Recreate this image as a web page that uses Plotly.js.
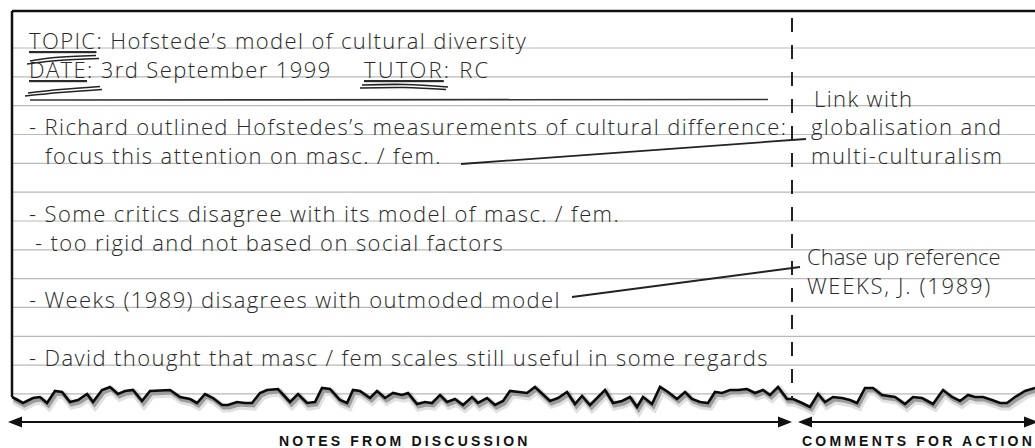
<!DOCTYPE html>
<html><head><meta charset="utf-8">
<script src="https://cdn.plot.ly/plotly-3.0.1.min.js"></script>
<style>html,body{margin:0;padding:0;background:#fff;overflow:hidden}</style>
</head><body><div id="chart" style="width:1035px;height:448px"></div>
<script>
// ---------------- DATA ----------------
const headerLabels = ["TOPIC", "DATE", "TUTOR"];
const headerValues = ["Hofstede’s model of cultural diversity", "3rd September 1999", "RC"];
const headerRows = [0, 1, 1];

const noteTexts = [
  "- Richard outlined Hofstedes’s measurements of cultural difference:",
  "focus this attention on masc. / fem.",
  "- Some critics disagree with its model of masc. / fem.",
  "- too rigid and not based on social factors",
  "- Weeks (1989) disagrees with outmoded model",
  "- David thought that masc / fem scales still useful in some regards"
];
const noteRows = [3, 4, 6, 7, 9, 11];

const commentTexts = ["Link with", "globalisation and", "multi-culturalism", "Chase up reference", "WEEKS, J. (1989)"];
const commentRows = [2, 3, 4, 7.5, 8.5];

const columnLabels = ["NOTES FROM DISCUSSION", "COMMENTS FOR ACTION"];
const ruledLineCount = 13;

const tornEdgeX = [12,23,33,40,47,55,62,70,78,87, 93,102,110,118,125,133,142,150,170,180,
  190,197,205,213,222,228,237,245,252,260, 267,278,290,298,307,315,322,330,340,347,
  353,360,370,377,385,393,402,408,417,425, 432,440,447,455,463,472,478,487,495,503,
  510,520,527,535,543,550,558,567,575,582, 590,598,605,613,622,630,637,643,652,660,
  668,677,685,692,700,708,715,722,730,738, 747,755,763,770,778,787,793,802,810,818,
  825,833,842,850,857,865,873,882,895,905, 913,922,933,943,952,960,968,975,983,992,
  1000,1007,1015,1025,1035];
const tornEdgeY = [397,403,398,397,403,391,392,402,400,394, 402,390,387,394,391,390,401,391,390,397,
  399,403,394,398,405,405,402,403,403,393, 390,389,402,394,403,402,388,389,400,403,
  390,391,398,391,398,393,395,393,404,402, 403,395,402,399,405,397,403,398,405,401,
  391,392,393,387,395,401,398,392,404,396, 405,397,390,403,401,397,407,397,404,387,
  392,399,392,399,402,403,392,393,390,390, 389,393,390,395,387,399,399,403,407,394,
  402,397,398,400,403,388,388,395,397,404, 397,398,404,390,397,401,395,397,397,400,
  403,403,397,391,388];

// ---------------- GEOMETRY / STYLE ----------------
const G = {
  W: 1035, H: 448, left: 12, top: 11, firstRule: 48, ruleGap: 28.83, divider: 792,
  headerX: [27, 27, 362], noteX: [27, 43, 27, 33, 27, 27], commentX: [812, 809, 809, 805, 805],
  headerSpacing: [1.4, 1.4, 2.2], noteSpacing: [1.4, 1.4, 1.4, 1.4, 1.4, 1.4],
  commentSpacing: [1.4, 1.4, 1.6, 0, 1.7],
  headRuleY: 100, headRuleX: [30, 768],
  links: [[461, 164, 806, 139], [572, 297, 800, 267]],
  colSpan: [[8, 792], [798, 1038]], labelX: [405, 918], arrowY: 422, labelY: 441
};
const rowY = r => G.firstRule + r * G.ruleGap;
const HAND = {family: "'Open Sans', 'Noto Sans', sans-serif", size: 22, color: '#2a2a2a', weight: 300};
const BASE_SHIFT = -9;
const spaced = (t, s) => `<span style="letter-spacing:${s}px">${t}</span>`;

const shapes = [];
for (let i = 0; i < ruledLineCount; i++) {
  shapes.push({type: 'line', layer: 'below', x0: G.left, x1: G.W, y0: rowY(i), y1: rowY(i),
    line: {color: '#b9b9b9', width: 1.2}});
}
shapes.push({type: 'line', x0: G.left, x1: G.W, y0: G.top, y1: G.top, line: {color: '#111', width: 2.5}});
shapes.push({type: 'line', x0: G.left, x1: G.left, y0: G.top, y1: tornEdgeY[0], line: {color: '#111', width: 2.5}});
shapes.push({type: 'line', x0: G.divider, x1: G.divider, y0: 18, y1: 399, line: {color: '#222', width: 2, dash: '14px,13px'}});
shapes.push({type: 'line', x0: G.headRuleX[0], x1: G.headRuleX[1], y0: G.headRuleY, y1: G.headRuleY - 0.5, line: {color: '#333', width: 1.6}});
G.links.forEach(l => shapes.push({type: 'line', x0: l[0], y0: l[1], x1: l[2], y1: l[3], line: {color: '#222', width: 1.8}}));
// arrows
G.colSpan.forEach(([a, b]) => {
  const y = G.arrowY, hl = 14, hw = 5.5;
  shapes.push({type: 'line', x0: a + hl - 2, x1: b - hl + 2, y0: y, y1: y, line: {color: '#111', width: 2}});
  shapes.push({type: 'path', path: `M ${a} ${y} L ${a + hl} ${y - hw} L ${a + hl} ${y + hw} Z`, fillcolor: '#111', line: {width: 0}});
  shapes.push({type: 'path', path: `M ${b} ${y} L ${b - hl} ${y - hw} L ${b - hl} ${y + hw} Z`, fillcolor: '#111', line: {width: 0}});
});

// swooshes under header labels (hand-drawn double underlines)
const swooshes = [
  [[30, 55, 96], [61, 57.5, 55.5]], [[27, 58, 99], [64, 60.5, 58.5]],
  [[28, 60, 100], [93, 89.5, 86.5]], [[25, 60, 102], [96, 92.5, 89.5]],
  [[362, 405, 448], [85, 84.5, 87]], [[360, 405, 446], [88, 87.5, 89.5]]
];

const traces = [];
traces.push({x: tornEdgeX.concat([G.W, G.left]), y: tornEdgeY.concat([416, 416]), fill: 'toself',
  fillcolor: '#ffffff', mode: 'lines', line: {width: 0, color: '#fff'}, hoverinfo: 'skip'});
traces.push({x: tornEdgeX.map(v => v + 2), y: tornEdgeY.map(v => v + 3.5), mode: 'lines',
  line: {color: 'rgba(0,0,0,0.12)', width: 8}, hoverinfo: 'skip'});
traces.push({x: tornEdgeX.map(v => v + 1.5), y: tornEdgeY.map(v => v + 2.5), mode: 'lines',
  line: {color: 'rgba(0,0,0,0.3)', width: 4}, hoverinfo: 'skip'});
traces.push({x: tornEdgeX, y: tornEdgeY, mode: 'lines', line: {color: '#0a0a0a', width: 2.6}, hoverinfo: 'skip'});
swooshes.forEach(s => traces.push({x: s[0], y: s[1], mode: 'lines', line: {color: '#222', width: 1.6, shape: 'spline'}, hoverinfo: 'skip'}));

const annotations = [];
const handAnn = (x, y, text) => ({x, y, xref: 'x', yref: 'y', xanchor: 'left', yanchor: 'bottom',
  yshift: BASE_SHIFT, showarrow: false, text, font: HAND});
headerLabels.forEach((lab, i) => annotations.push(handAnn(G.headerX[i], rowY(headerRows[i]),
  spaced(`<u>${lab}</u>: ${headerValues[i]}`, G.headerSpacing[i]))));
noteTexts.forEach((t, i) => annotations.push(handAnn(G.noteX[i], rowY(noteRows[i]), spaced(t, G.noteSpacing[i]))));
commentTexts.forEach((t, i) => annotations.push(handAnn(G.commentX[i], rowY(commentRows[i]), spaced(t, G.commentSpacing[i]))));
columnLabels.forEach((t, i) => annotations.push({
  x: G.labelX[i], y: G.labelY, xref: 'x', yref: 'y', xanchor: 'center', yanchor: 'middle',
  showarrow: false, text: spaced(t, 3.2),
  font: {family: "'Liberation Sans', Arial, sans-serif", size: 14, color: '#111', weight: 'bold'}}));

const layout = {
  width: G.W, height: G.H, autosize: false, margin: {l: 0, r: 0, t: 0, b: 0, pad: 0},
  paper_bgcolor: '#fff', plot_bgcolor: '#fff', showlegend: false, hovermode: false,
  xaxis: {range: [0, G.W], visible: false, fixedrange: true},
  yaxis: {range: [G.H, 0], visible: false, fixedrange: true},
  shapes, annotations
};
Plotly.newPlot('chart', traces, layout, {staticPlot: true, displayModeBar: false});
</script></body></html>
